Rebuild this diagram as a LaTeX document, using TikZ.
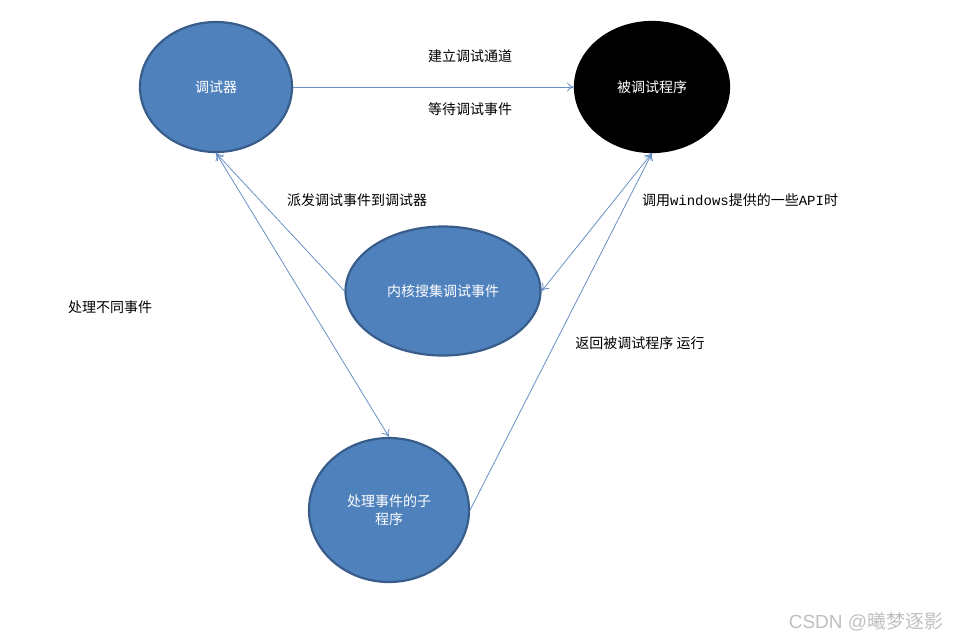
\documentclass[tikz,border=0pt]{standalone}
\usepackage{fontspec}
\setmainfont{Liberation Sans}
\newfontfamily\cjk{Noto Sans CJK SC}
\newfontfamily\mono{Liberation Mono}
\usetikzlibrary{shapes.geometric,arrows.meta}
\definecolor{ofblue}{HTML}{4F81BD}
\definecolor{ofedge}{HTML}{385D8A}
\definecolor{lineblue}{HTML}{6A8FC4}
\begin{document}
\begin{tikzpicture}[x=1pt,y=-1pt,
  bubble/.style={ellipse,draw=ofedge,line width=2.2pt,fill=ofblue,inner sep=0pt,
    text=white,font=\cjk\fontsize{14}{18}\selectfont,align=center},
  conn/.style={draw=lineblue,line width=0.8pt,-{To[length=7pt,width=9pt]}},
  both/.style={draw=lineblue,line width=0.8pt,{To[length=7pt,width=9pt]}-{To[length=7pt,width=9pt]}},
  lbl/.style={font=\cjk\fontsize{14}{18}\selectfont,text=black,inner sep=0pt}]
\useasboundingbox (0,0) rectangle (955,641);
\node[bubble,minimum width=152pt,minimum height=130pt] (dbg) at (216,87) {调试器};
\node[bubble,fill=black,draw=black,minimum width=154pt,minimum height=130pt] (prog) at (652,87) {被调试程序};
\node[bubble,minimum width=195pt,minimum height=129pt] (kern) at (443,291) {内核搜集调试事件};
\node[bubble,minimum width=160pt,minimum height=144pt] (sub) at (389,510) {处理事件的子\\程序};
\path[conn] (dbg.east) -- (prog.west);
\path[conn] (kern.west) -- (dbg.south);
\path[both] (dbg.south) -- (sub.north);
\path[both] (kern.east) -- (prog.south);
\path[conn] (sub.east) -- (prog.south);
\node[lbl] (t1) at (470,56) {建立调试通道};
\node[lbl] (t2) at (470,109) {等待调试事件};
\node[lbl] (t3) at (357,200) {派发调试事件到调试器};
\node[lbl] (t4) at (740,200) {调用{\mono windows}提供的一些{\mono API}时};
\node[lbl] (t5) at (110,307) {处理不同事件};
\node[lbl] (t6) at (640,343) {返回被调试程序\ 运行};
\node[font=\fontsize{19}{22}\selectfont,text=black!25,inner sep=0pt] (wm) at (866,622) {CSDN @{\cjk 曦梦逐影}};
\end{tikzpicture}
\end{document}
